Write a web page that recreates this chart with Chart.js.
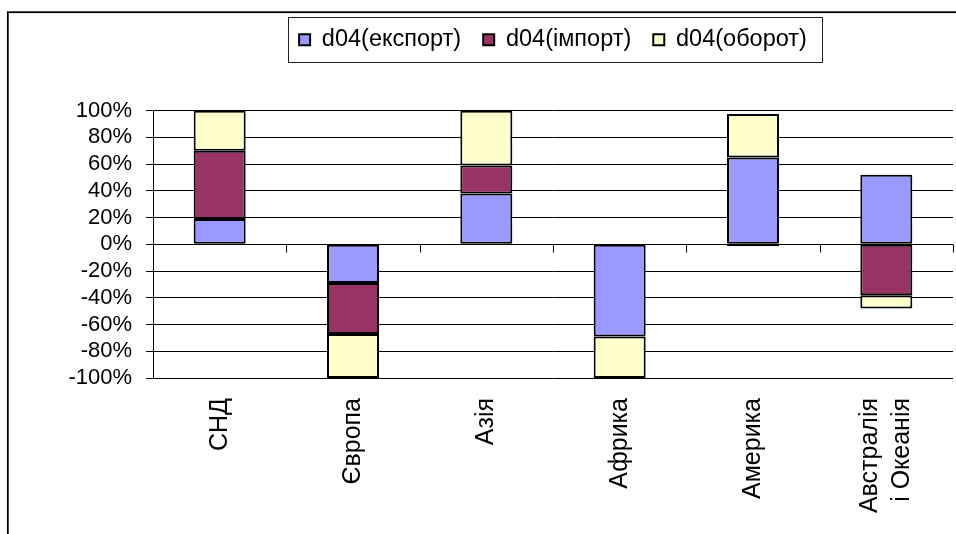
<!DOCTYPE html>
<html>
<head>
<meta charset="utf-8">
<script src="https://cdn.jsdelivr.net/npm/chart.js@4/dist/chart.umd.min.js"></script>
<style>
  html, body { margin: 0; padding: 0; background: #fff; }
  #c { display: block; }
</style>
</head>
<body>
<canvas id="c" width="956" height="534"></canvas>
<script>
// ---- data ----
const categories = ['СНД', 'Європа', 'Азія', 'Африка', 'Америка', ['Австралія', 'і Океанія']];
const seriesNames = ['d04(експорт)', 'd04(імпорт)', 'd04(оборот)'];
const exportValues = [19, -29, 38, -69, 65, 52];
const importValues = [51, -38, 21, 0, -1.5, -38];
const turnoverValues = [30, -33, 41, -31, 32.5, -10];
const yTicks = [-100, -80, -60, -40, -20, 0, 20, 40, 60, 80, 100];

const FONT = '"Liberation Sans", Arial, sans-serif';
const colors = ['#9999FF', '#993366', '#FFFFCC'];

const decor = {
  id: 'decor',
  beforeDraw(chart) {
    const ctx = chart.ctx;
    ctx.save();
    ctx.fillStyle = '#fff';
    ctx.fillRect(0, 0, chart.width, chart.height);
    ctx.restore();
    // centre multi-line rotated category labels on their tick
    const xs = chart.scales.x;
    const items = xs.getLabelItems();
    if (!items._centred) {
      items.forEach(it => {
        const n = Array.isArray(it.label) ? it.label.length : 1;
        if (n > 1) it.options.translation[0] -= (n - 1) * it.font.lineHeight / 2;
      });
      items._centred = true;
    }
  },
  afterDatasetsDraw(chart) {
    const ctx = chart.ctx;
    const x = chart.scales.x, y = chart.scales.y;
    const y0 = Math.round(y.getPixelForValue(0)) + 0.5;
    ctx.save();
    ctx.strokeStyle = '#000';
    ctx.lineWidth = 1;
    for (let i = 0; i <= categories.length; i++) {
      const px = Math.round(x.getPixelForValue(i - 0.5)) + 0.5;
      ctx.beginPath();
      ctx.moveTo(px, y0);
      ctx.lineTo(px, y0 + 8);
      ctx.stroke();
    }
    ctx.restore();
  },
  afterDraw(chart) {
    const ctx = chart.ctx;
    ctx.save();
    // outer frame
    ctx.strokeStyle = '#000';
    ctx.lineWidth = 1.8;
    ctx.strokeRect(7.8, 12.2, 1200, 800);
    // legend frame
    const hb = chart.legend.legendHitBoxes;
    if (hb && hb.length) {
      const l = hb[0].left - 11;
      const last = hb[hb.length - 1];
      const r = last.left + last.width + 15;
      const cy = hb[0].top + hb[0].height / 2;
      ctx.lineWidth = 1;
      ctx.strokeStyle = '#222';
      ctx.strokeRect(Math.round(l) + 0.5, Math.round(cy - 22.5) + 0.5, Math.round(r - l), 45);
    }
    ctx.restore();
  }
};

new Chart(document.getElementById('c'), {
  type: 'bar',
  data: {
    labels: categories,
    datasets: [
      { label: seriesNames[0], data: exportValues },
      { label: seriesNames[1], data: importValues },
      { label: seriesNames[2], data: turnoverValues }
    ].map((d, i) => Object.assign(d, {
      backgroundColor: colors[i],
      borderColor: '#000',
      borderWidth: 2,
      borderSkipped: false,
      categoryPercentage: 1,
      barPercentage: 0.39
    }))
  },
  options: {
    responsive: false,
    animation: false,
    devicePixelRatio: 1,
    layout: { padding: { top: 6, left: 0, right: 3, bottom: 0 } },
    plugins: {
      tooltip: { enabled: false },
      legend: {
        position: 'top',
        fullSize: false,
        labels: {
          color: '#000',
          font: { family: FONT, size: 23.5 },
          boxWidth: 11,
          boxHeight: 11,
          padding: 22
        }
      },
      title: {
        display: true,
        text: ' ',
        weight: 500,
        font: { size: 1 },
        padding: { top: 48, bottom: 0 }
      }
    },
    scales: {
      x: {
        stacked: true,
        grid: { display: false },
        border: { display: false },
        ticks: {
          color: '#000',
          font: { family: FONT, size: 25, lineHeight: 1.3 },
          minRotation: 90,
          maxRotation: 90,
          autoSkip: false,
          padding: 12
        },
        afterFit(s) { s.height = 156; s.paddingLeft = 0; s.paddingRight = 0; }
      },
      y: {
        stacked: true,
        min: -100,
        max: 100,
        afterBuildTicks(s) { s.ticks = yTicks.map(v => ({ value: v })); },
        grid: { color: '#000', lineWidth: 1, tickLength: 7, drawTicks: true },
        border: { display: true, color: '#000', width: 1 },
        ticks: {
          color: '#000',
          autoSkip: false,
          font: { family: FONT, size: 22, lineHeight: 1 },
          padding: 14,
          callback: v => v + '%'
        },
        afterFit(s) { s.width = 153; }
      }
    }
  },
  plugins: [decor]
});
</script>
</body>
</html>
